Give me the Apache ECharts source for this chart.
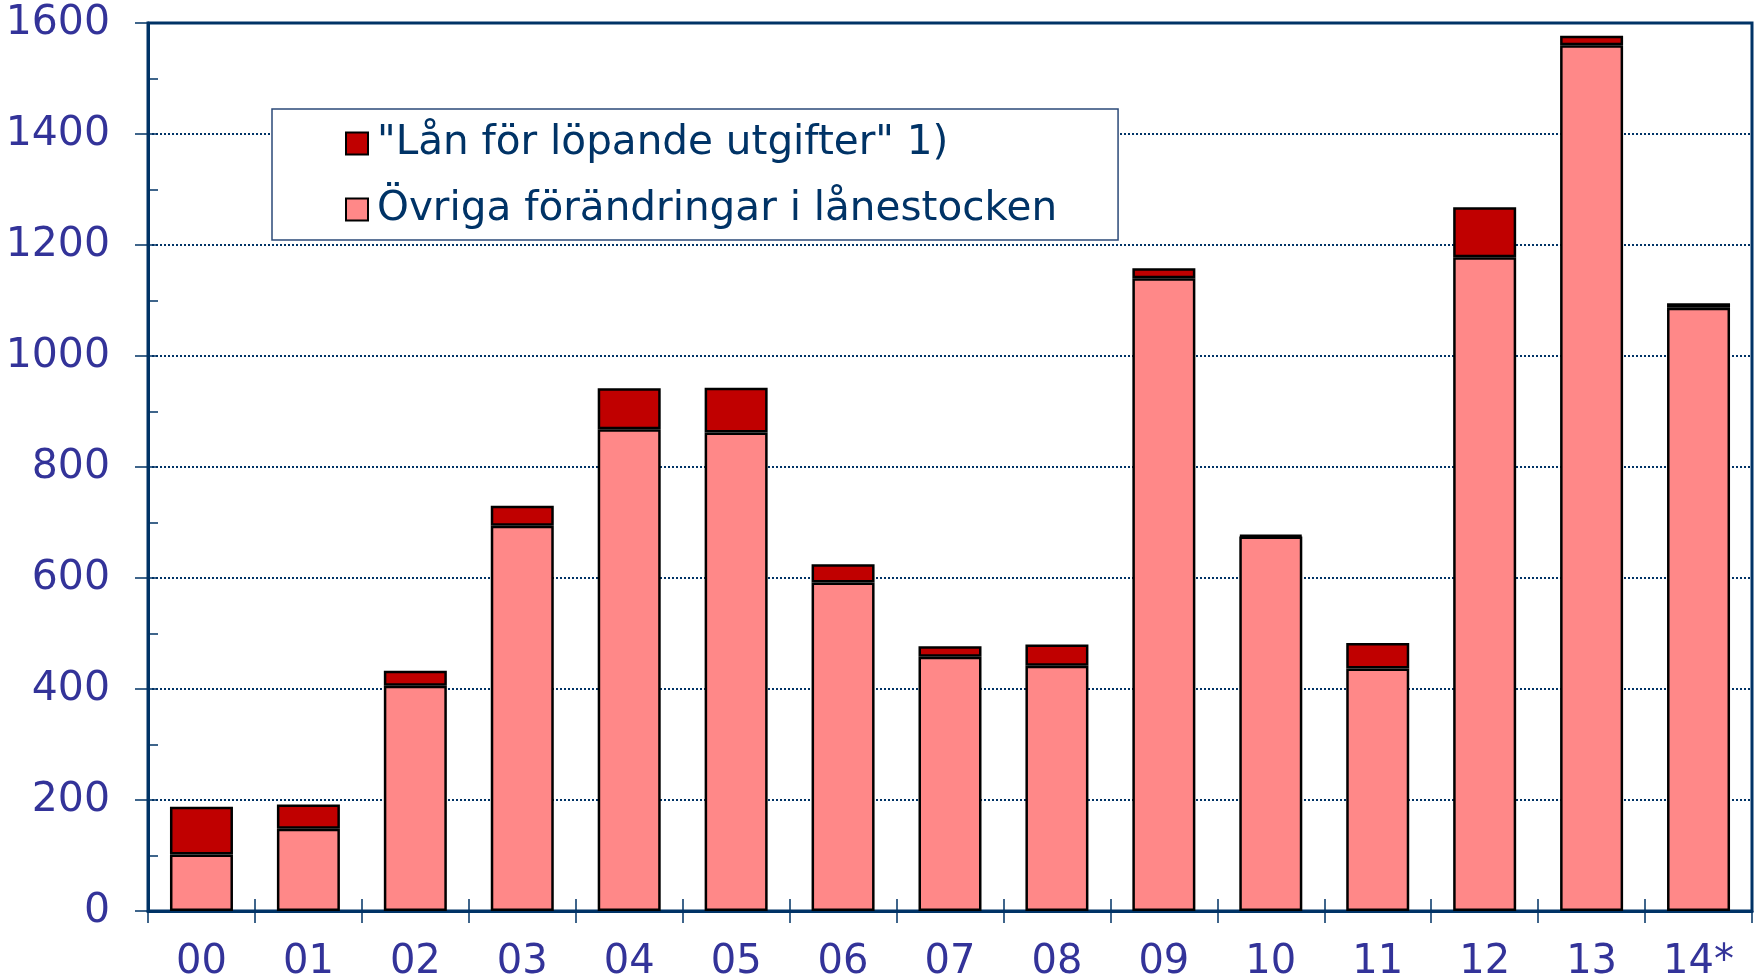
<!DOCTYPE html>
<html>
<head>
<meta charset="utf-8">
<script src="https://cdn.jsdelivr.net/npm/echarts@6/dist/echarts.min.js"></script>
<style>
html,body{margin:0;padding:0;background:#fff;}
#chart{width:1755px;height:974px;}
</style>
</head>
<body>
<div id="chart"></div>
<script>
const categories = ['00','01','02','03','04','05','06','07','08','09','10','11','12','13','14*'];
const lanLopande = [86, 44, 27, 36, 74, 81, 33, 19, 38, 18, 2, 46, 90, 17, 8];
const ovriga = [102, 148, 406, 694, 868, 862, 592, 458, 442, 1140, 675, 437, 1178, 1560, 1087];
const yTicks = [0, 200, 400, 600, 800, 1000, 1200, 1400, 1600];
const seriesNames = ['"Lån för löpande utgifter" 1)', 'Övriga förändringar i lånestocken'];

const navy = '#003366';
const labelColor = '#333399';
const font = 'DejaVu Sans, Verdana, sans-serif';

const chart = echarts.init(document.getElementById('chart'), null, {renderer: 'canvas'});
chart.setOption({
  animation: false,
  backgroundColor: '#ffffff',
  grid: {
    left: 148, right: 3, top: 23, bottom: 63,
    containLabel: false,
    outerBoundsMode: 'none',
    show: true, borderColor: navy, borderWidth: 3, backgroundColor: 'transparent'
  },
  legend: {
    data: [seriesNames[0], seriesNames[1]],
    orient: 'vertical',
    left: 272, top: 109,
    padding: [14, 61, 10, 73],
    itemGap: 25,
    itemWidth: 22, itemHeight: 22,
    icon: 'rect',
    itemStyle: {borderColor: '#000', borderWidth: 2},
    backgroundColor: '#ffffff',
    borderColor: '#2b4a78',
    borderWidth: 1.5,
    textStyle: {color: navy, fontSize: 40.5, fontFamily: font, padding: [0,0,0,4]}
  },
  xAxis: [{
    type: 'category',
    data: categories,
    position: 'bottom',
    axisLine: {show: true, lineStyle: {color: navy, width: 3}},
    axisTick: {show: true, length: 12, lineStyle: {color: navy, width: 1.5}},
    axisLabel: {color: labelColor, fontSize: 40, fontFamily: font, margin: 32},
    splitLine: {show: false}
  }, {
    type: 'category',
    data: categories,
    position: 'bottom',
    offset: 0,
    axisLine: {show: false},
    axisTick: {show: true, inside: true, length: 12, lineStyle: {color: navy, width: 1.5}},
    axisLabel: {show: false},
    splitLine: {show: false}
  }],
  yAxis: [{
    type: 'value',
    min: yTicks[0], max: yTicks[yTicks.length - 1], interval: 200,
    position: 'left',
    axisLine: {show: true, lineStyle: {color: navy, width: 3}},
    axisTick: {show: true, length: 13, lineStyle: {color: navy, width: 1.5}},
    axisLabel: {color: labelColor, fontSize: 41, fontFamily: font, margin: 38, formatter: v => String(v)},
    splitLine: {show: true, lineStyle: {color: navy, width: 2, type: [2, 2]}}
  }, {
    type: 'value',
    min: 0, max: 1600, interval: 100,
    position: 'left', offset: 0,
    axisLine: {show: false},
    axisTick: {show: true, inside: true, length: 10, lineStyle: {color: navy, width: 1.5}},
    axisLabel: {show: false},
    splitLine: {show: false}
  }],
  series: [{
    name: seriesNames[1],
    type: 'bar',
    stack: 'total',
    data: ovriga,
    barWidth: 63,
    itemStyle: {color: '#FF8888', borderColor: '#000', borderWidth: 2.5}
  }, {
    name: seriesNames[0],
    type: 'bar',
    stack: 'total',
    data: lanLopande,
    barWidth: 63,
    itemStyle: {color: '#C00000', borderColor: '#000', borderWidth: 2.5}
  }]
});
</script>
</body>
</html>
